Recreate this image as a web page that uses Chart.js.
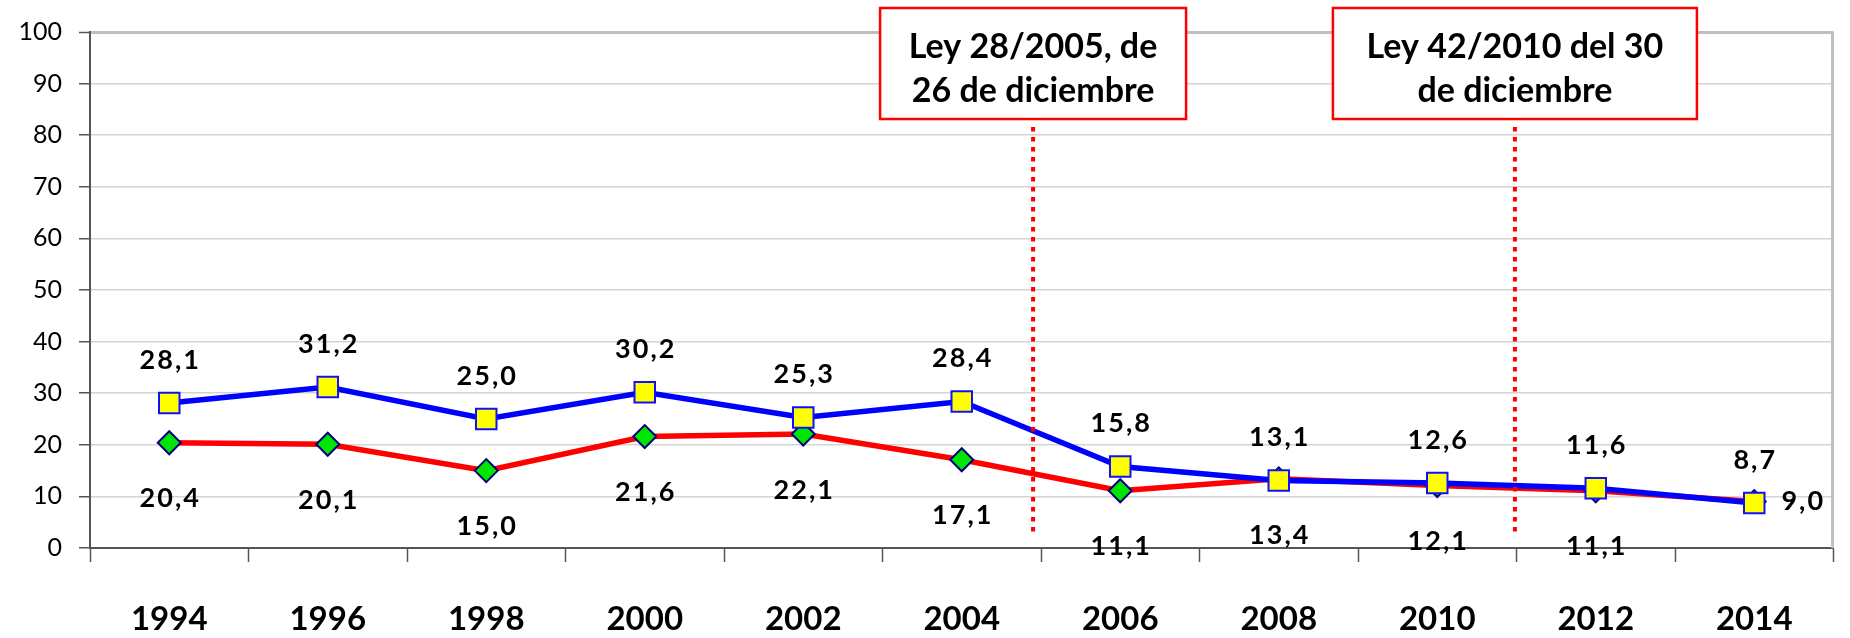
<!DOCTYPE html>
<html>
<head>
<meta charset="utf-8">
<script src="https://cdn.jsdelivr.net/npm/chart.js@4.4.1/dist/chart.umd.min.js"></script>
<style>
  html, body { margin: 0; padding: 0; background: #fff; }
  #wrap { width: 1850px; height: 638px; position: relative; }
</style>
</head>
<body>
<div id="wrap"><canvas id="chart"></canvas></div>
<script>
// Datos del gráfico
const years = ['1994', '1996', '1998', '2000', '2002', '2004', '2006', '2008', '2010', '2012', '2014'];
const blueValues = [28.1, 31.2, 25.0, 30.2, 25.3, 28.4, 15.8, 13.1, 12.6, 11.6, 8.7];
const redValues = [20.4, 20.1, 15.0, 21.6, 22.1, 17.1, 11.1, 13.4, 12.1, 11.1, 9.0];
const yTicks = [0, 10, 20, 30, 40, 50, 60, 70, 80, 90, 100];

// Leyes (posición en el eje de categorías)
const lawPositions = [5.45, 8.49];
const lawTexts = [
    ['Ley 28/2005, de', '26 de diciembre'],
    ['Ley 42/2010 del 30', 'de diciembre']
];

const FONT = 'Lato, "Open Sans", sans-serif';
const fmt = v => v.toFixed(1).replace('.', ',');

// Etiquetas de valores y anotaciones
const extrasPlugin = {
    id: 'extras',
    beforeDatasetsDraw(chart) {
        const { ctx, chartArea } = chart;
        ctx.save();
        // borde derecho del área de trazado
        ctx.strokeStyle = '#c0c0c0';
        ctx.lineWidth = 3;
        ctx.beginPath();
        ctx.moveTo(chartArea.right - 1, chartArea.top);
        ctx.lineTo(chartArea.right - 1, chartArea.bottom);
        ctx.stroke();
        ctx.restore();
    },
    afterDatasetsDraw(chart) {
        const { ctx, chartArea } = chart;
        const xScale = chart.scales.x;
        const boxWidths = [306, 364];

        ctx.save();
        // líneas punteadas y cajas de las leyes
        lawPositions.forEach((pos, i) => {
            const x = xScale.getPixelForValue(pos);
            const boxTop = 8, boxH = 111, w = boxWidths[i];
            ctx.strokeStyle = '#ff0000';
            ctx.lineWidth = 4;
            ctx.setLineDash([4.5, 5.5]);
            ctx.beginPath();
            ctx.moveTo(x, boxTop + boxH + 8);
            ctx.lineTo(x, chartArea.bottom - 12);
            ctx.stroke();
            ctx.setLineDash([]);

            ctx.fillStyle = '#fff';
            ctx.fillRect(x - w / 2, boxTop, w, boxH);
            ctx.lineWidth = 2.5;
            ctx.strokeRect(x - w / 2, boxTop, w, boxH);

            ctx.fillStyle = '#000';
            ctx.font = 'bold 34px ' + FONT;
            ctx.textAlign = 'center';
            ctx.textBaseline = 'middle';
            lawTexts[i].forEach((line, j) => {
                ctx.fillText(line, x, boxTop + 39 + j * 44);
            });
        });

        // valores
        ctx.font = 'bold 27px ' + FONT;
        ctx.letterSpacing = '2px';
        ctx.fillStyle = '#000';
        ctx.textAlign = 'center';
        ctx.textBaseline = 'middle';
        const blueMeta = chart.getDatasetMeta(0);
        blueMeta.data.forEach((pt, i) => {
            ctx.fillText(fmt(blueValues[i]), pt.x + 1, pt.y - 43);
        });
        const redMeta = chart.getDatasetMeta(1);
        redMeta.data.forEach((pt, i) => {
            if (i === redMeta.data.length - 1) {
                ctx.fillText(fmt(redValues[i]), pt.x + 49, pt.y);
            } else {
                ctx.fillText(fmt(redValues[i]), pt.x + 1, pt.y + 56);
            }
        });
        ctx.restore();
    }
};

const ctx = document.getElementById('chart').getContext('2d');

new Chart(ctx, {
    type: 'line',
    data: {
        labels: years,
        datasets: [
            {
                label: 'serie azul',
                data: blueValues,
                borderColor: '#0000ff',
                borderWidth: 5.5,
                pointStyle: 'rect',
                pointRadius: 14.5,
                pointBackgroundColor: '#ffff00',
                pointBorderColor: '#1010ff',
                pointBorderWidth: 2,
                tension: 0
            },
            {
                label: 'serie roja',
                data: redValues,
                borderColor: '#ff0000',
                borderWidth: 5.5,
                pointStyle: 'rectRot',
                pointRadius: 11.5,
                pointBackgroundColor: '#00e600',
                pointBorderColor: '#000080',
                pointBorderWidth: 2,
                tension: 0
            }
        ]
    },
    options: {
        responsive: true,
        maintainAspectRatio: false,
        animation: false,
        layout: { padding: { top: 18, right: 2, left: 0, bottom: 0 } },
        plugins: {
            legend: { display: false },
            tooltip: { enabled: false }
        },
        scales: {
            x: {
                offset: true,
                grid: {
                    offset: true,
                    drawOnChartArea: false,
                    tickLength: 14,
                    tickColor: '#555',
                    tickWidth: 1.5
                },
                border: { color: '#555', width: 2 },
                ticks: {
                    color: '#000',
                    padding: 38,
                    maxRotation: 0,
                    autoSkip: false,
                    font: { family: FONT, size: 33, weight: 'bold' }
                },
                afterFit: scale => { scale.height = 90; }
            },
            y: {
                min: 0,
                max: 100,
                afterBuildTicks: scale => { scale.ticks = yTicks.map(v => ({ value: v })); },
                grid: {
                    color: c => c.tick && c.tick.value === 100 ? '#c0c0c0' : '#d4d4d4',
                    lineWidth: c => c.tick && c.tick.value === 100 ? 3 : 1.5,
                    tickLength: 11,
                    tickColor: '#555',
                    tickWidth: 1.5
                },
                border: { color: '#555', width: 2 },
                ticks: {
                    color: '#000',
                    padding: 17,
                    font: { family: FONT, size: 25 }
                },
                afterFit: scale => { scale.width = 90; }
            }
        }
    },
    plugins: [extrasPlugin]
});
</script>
</body>
</html>
